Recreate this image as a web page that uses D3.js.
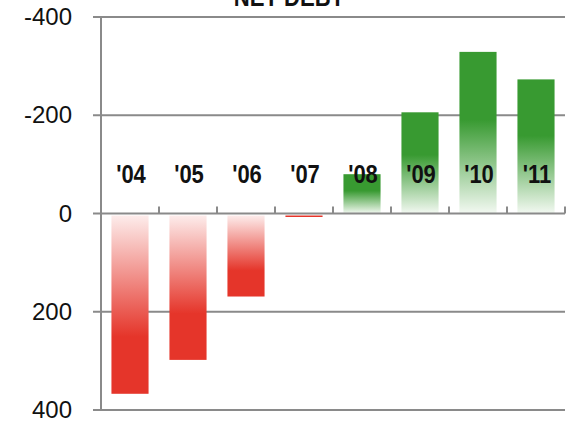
<!doctype html>
<html>
<head>
<meta charset="UTF-8">
<title>Net debt</title>
<script src="https://cdn.jsdelivr.net/npm/d3@7"></script>
<style>
  body { margin: 0; background: #fff; }
  text { font-family: "Liberation Sans", Arial, sans-serif; }
</style>
</head>
<body>
<svg width="570" height="424"></svg>
<script>
// data
var years = ["'04", "'05", "'06", "'07", "'08", "'09", "'10", "'11"];
var netDebt = [367, 298, 169, 3, -80, -206, -329, -273];
var yTicks = [-400, -200, 0, 200, 400];

var svg = d3.select("svg");
var mLeft = 101, mRight = 565, mTop = 17, mBottom = 410;

var x = d3.scaleBand().domain(years).range([mLeft, mRight]).paddingInner(0.36).paddingOuter(0.18);
var y = d3.scaleLinear().domain([-400, 400]).range([mTop, mBottom]);

// gradients
var defs = svg.append("defs");
var red = defs.append("linearGradient").attr("id", "redGrad")
    .attr("x1", 0).attr("y1", 0).attr("x2", 0).attr("y2", 1);
red.append("stop").attr("offset", 0).attr("stop-color", "#fdeceb");
red.append("stop").attr("offset", 0.68).attr("stop-color", "#e5352a");
red.append("stop").attr("offset", 1).attr("stop-color", "#e5352a");

var green = defs.append("linearGradient").attr("id", "greenGrad")
    .attr("x1", 0).attr("y1", 0).attr("x2", 0).attr("y2", 1);
green.append("stop").attr("offset", 0).attr("stop-color", "#389a31");
green.append("stop").attr("offset", 0.42).attr("stop-color", "#389a31");
green.append("stop").attr("offset", 1).attr("stop-color", "#f3f9f2");

// grid lines
svg.selectAll(".grid").data(yTicks.filter(function(d){ return d != 0; }))
  .enter().append("line")
  .attr("x1", mLeft - 8).attr("x2", mRight)
  .attr("y1", function(d){ return y(d); }).attr("y2", function(d){ return y(d); })
  .attr("stroke", "#8a8a8a").attr("stroke-width", 2);

// y labels
svg.selectAll(".ylab").data(yTicks).enter().append("text")
  .attr("x", 72).attr("y", function(d){ return y(d) + 8; })
  .attr("text-anchor", "end")
  .attr("font-size", 24)
  .attr("fill", "#111")
  .text(function(d){ return d; });

// bars
svg.selectAll(".bar").data(netDebt).enter().append("rect")
  .attr("x", function(d, i){ return x(years[i]); })
  .attr("width", x.bandwidth())
  .attr("y", function(d){ return y(Math.min(0, d)) + (d > 0 ? 2 : 0); })
  .attr("height", function(d){ return Math.max(1.5, Math.abs(y(d) - y(0)) - (d > 0 ? 2 : 0)); })
  .attr("fill", function(d){ return d > 0 ? (d < 10 ? "#e5352a" : "url(#redGrad)") : "url(#greenGrad)"; });

// left axis line
svg.append("line").attr("x1", mLeft).attr("x2", mLeft).attr("y1", mTop).attr("y2", mBottom)
  .attr("stroke", "#8a8a8a").attr("stroke-width", 2);

// zero axis with category ticks
var step = (mRight - mLeft) / years.length;
svg.append("line").attr("x1", mLeft - 8).attr("x2", mRight).attr("y1", y(0)).attr("y2", y(0))
  .attr("stroke", "#8a8a8a").attr("stroke-width", 2);
svg.selectAll(".xtick").data(d3.range(years.length + 1)).enter().append("line")
  .attr("x1", function(i){ return mLeft + i * step; })
  .attr("x2", function(i){ return mLeft + i * step; })
  .attr("y1", y(0)).attr("y2", y(0) - 7)
  .attr("stroke", "#8a8a8a").attr("stroke-width", 2);

// category labels (condensed bold)
svg.selectAll(".cat").data(years).enter().append("text")
  .attr("transform", function(d){ return "translate(" + (x(d) + x.bandwidth() / 2 + 1) + ",183) scale(0.88,1)"; })
  .attr("text-anchor", "middle")
  .attr("font-size", 25)
  .attr("font-weight", "bold")
  .attr("fill", "#111")
  .text(function(d){ return d; });

// title (cut off at top)
svg.append("text").attr("transform", "translate(289,6) scale(0.85,1)")
  .attr("text-anchor", "middle")
  .attr("font-size", 26).attr("font-weight", "bold").attr("fill", "#111")
  .text("NET DEBT");
</script>
</body>
</html>
